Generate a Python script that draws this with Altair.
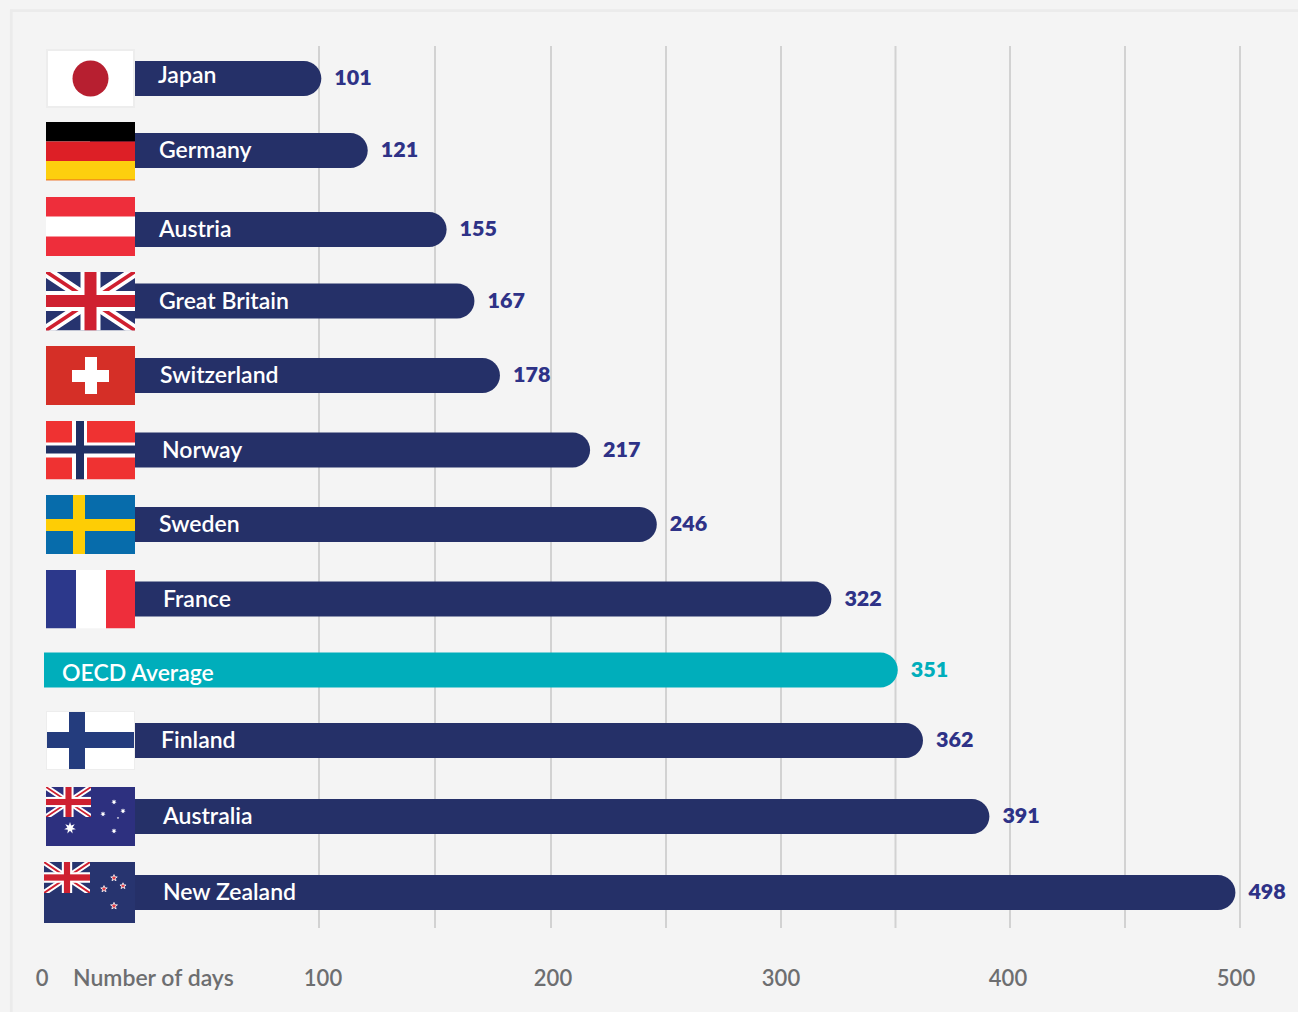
import base64
import math

import altair as alt
import pandas as pd

# Days of paid parental leave data
countries = ["Japan", "Germany", "Austria", "Great Britain", "Switzerland", "Norway",
             "Sweden", "France", "OECD Average", "Finland", "Australia", "New Zealand"]
days = [101, 121, 155, 167, 178, 217, 246, 322, 351, 362, 391, 498]
grid_values = [100, 150, 200, 250, 300, 350, 400, 450, 500]
tick_values = [0, 100, 200, 300, 400, 500]
axis_title = "Number of days"

NAVY = "#253068"
TEAL = "#00aebb"
VALUE_BLUE = "#2e3287"
GREY = "#6d6e70"
FONT = "Lato"
W, H = 89, 59


def svg_uri(body, w=W, h=H):
    svg = (f'<svg xmlns="http://www.w3.org/2000/svg" width="{w}" height="{h}" '
           f'viewBox="0 0 {w} {h}" preserveAspectRatio="none">{body}</svg>')
    return "data:image/svg+xml;base64," + base64.b64encode(svg.encode()).decode()


def rect(x, y, w, h, fill):
    return f'<rect x="{x}" y="{y}" width="{w}" height="{h}" fill="{fill}"/>'


def star(cx, cy, r, fill, points=5, inner=0.42, stroke=""):
    pts = []
    for i in range(points * 2):
        rad = r if i % 2 == 0 else r * inner
        a = -math.pi / 2 + i * math.pi / points
        pts.append(f"{cx + rad * math.cos(a):.2f},{cy + rad * math.sin(a):.2f}")
    extra = f' stroke="{stroke}" stroke-width="0.8"' if stroke else ""
    return f'<polygon points="{" ".join(pts)}" fill="{fill}"{extra}/>'


def union_jack(w, h, navy):
    sx, sy = w / 89, h / 59
    cx, cy = w / 2, h / 2
    return (
        rect(0, 0, w, h, navy)
        + f'<path d="M0 0L{w} {h}M{w} 0L0 {h}" stroke="#fff" stroke-width="{11 * sy:.2f}"/>'
        + f'<path d="M0 0L{w} {h}M{w} 0L0 {h}" stroke="#cf2030" stroke-width="{3.6 * sy:.2f}"/>'
        + rect(cx - 10 * sx, 0, 20 * sx, h, "#fff")
        + rect(0, cy - 10 * sy, w, 20 * sy, "#fff")
        + rect(cx - 6 * sx, 0, 12 * sx, h, "#cf2030")
        + rect(0, cy - 6 * sy, w, 12 * sy, "#cf2030")
    )


def nested_jack(w, h, navy):
    return f'<svg x="0" y="0" width="{w}" height="{h}" viewBox="0 0 {w} {h}">{union_jack(w, h, navy)}</svg>'


flag_bodies = {
    "Japan": rect(0, 0, W, H, "#ededed") + rect(2, 2, W - 4, H - 4, "#ffffff")
             + f'<circle cx="44.5" cy="29.5" r="18" fill="#b71f30"/>',
    "Germany": rect(0, 0, W, 20, "#000000") + rect(0, 20, W, 19.5, "#dd1f26")
               + rect(0, 39.5, W, 19.5, "#fdcf0e") + rect(0, 58.2, W, 0.8, "#dd1f26"),
    "Austria": rect(0, 0, W, H, "#ee2e3b") + rect(0, 19.5, W, 20, "#ffffff"),
    "Great Britain": union_jack(W, H, "#27346f"),
    "Switzerland": rect(0, 0, W, H, "#d52f27") + rect(39, 11, 12, 37, "#ffffff") + rect(26, 24, 37, 12, "#ffffff"),
    "Norway": rect(0, 0, W, H, "#ef3232") + rect(26, 0, 15, H, "#ffffff") + rect(0, 22, W, 15, "#ffffff")
              + rect(30, 0, 8, H, "#1f2f63") + rect(0, 25, W, 8, "#1f2f63"),
    "Sweden": rect(0, 0, W, H, "#076cab") + rect(27, 0, 12, H, "#fecd05") + rect(0, 24, W, 12, "#fecd05"),
    "France": rect(0, 0, 30, H, "#2c388b") + rect(30, 0, 30, H, "#ffffff") + rect(60, 0, 29, H, "#ee2e3b"),
    "Finland": rect(0, 0, W, H, "#ededed") + rect(1, 1, W - 2, H - 2, "#ffffff")
               + rect(23, 1, 16, H - 2, "#243c7d") + rect(1, 21, W - 2, 16, "#243c7d"),
    "Australia": rect(0, 0, W, H, "#2d307f") + nested_jack(45, 30, "#2d307f")
                 + star(24, 41, 6, "#ffffff", 7, 0.45) + star(68, 15, 2.8, "#ffffff", 7, 0.45)
                 + star(57, 27, 2.8, "#ffffff", 7, 0.45) + star(77, 24, 2.8, "#ffffff", 7, 0.45)
                 + star(72, 31, 1.3, "#ffffff", 5) + star(68, 44, 2.8, "#ffffff", 7, 0.45),
    "New Zealand": rect(0, 0, 91, 61, "#27346f") + nested_jack(46, 31, "#27346f")
                   + star(70, 16, 3.4, "#e2363f", 5, 0.42, "#ffffff") + star(60, 27, 3.4, "#e2363f", 5, 0.42, "#ffffff")
                   + star(79, 24, 3.2, "#e2363f", 5, 0.42, "#ffffff") + star(70, 44, 3.6, "#e2363f", 5, 0.42, "#ffffff"),
}

# Layout of rows: the rows are not evenly spaced, so the y scale is piecewise
row_centres = [78.5, 150.5, 229.5, 301, 375.5, 450, 524.5, 599, 670, 740.5, 816.5, 892.5]
flag_shift = {"Austria": -3, "Germany": 0.5}
label_dx = [114, 115, 115, 115, 116, 118, 115, 119, 18, 117, 119, 119]
label_dy = [-3, 0.5, 0.5, 0.5, 0.5, 0.5, 0.5, 0.5, 3.5, 0.5, 0.5, 0.5]

rows = list(range(len(countries)))
df = pd.DataFrame({"row": rows, "country": countries, "days": days})
avg_df = df[df["country"] == "OECD Average"]
country_df = df[df["country"] != "OECD Average"]

x_scale = alt.Scale(domain=tick_values, range=[44, 319, 551, 781, 1010, 1240], nice=False, zero=False)
y_scale = alt.Scale(domain=rows, range=row_centres, nice=False, zero=False, padding=0)
x_enc = alt.X("days:Q", scale=x_scale, axis=None, stack=None)
y_enc = alt.Y("row:Q", scale=y_scale, axis=None)


def at_zero():
    return alt.XDatum(0, type="quantitative", scale=x_scale, axis=None)


grid = alt.Chart(pd.DataFrame({"v": grid_values})).mark_rule(color="#d2d2d2", strokeWidth=2).encode(
    x=alt.X("v:Q", scale=x_scale, axis=None), y=alt.value(46), y2=alt.value(928))

one = pd.DataFrame({"k": [0]})
frame_left = alt.Chart(one).mark_rule(color="#ebebeb", strokeWidth=2.7).encode(
    x=alt.value(11.3), y=alt.value(9.3), y2=alt.value(1012))
frame_top = alt.Chart(one).mark_rule(color="#ebebeb", strokeWidth=2.7).encode(
    y=alt.value(10.7), x=alt.value(10), x2=alt.value(1298))


def bar_layer(frame, colour, start):
    # Country bars begin behind their flags, the average bar at the axis start
    return alt.Chart(frame).mark_bar(orient="horizontal", size=35, color=colour, cornerRadiusTopRight=17.5,
                                     cornerRadiusBottomRight=17.5).encode(
        x=x_enc, x2=alt.value(start), y=y_enc)


def value_layer(frame, colour):
    return alt.Chart(frame).mark_text(align="left", baseline="middle", dx=13, dy=0.5, font=FONT, fontSize=21.5,
                                      fontWeight=800, color=colour).encode(
        x=x_enc, y=y_enc, text="days:Q")


layers = [frame_left, frame_top, grid,
          bar_layer(country_df, NAVY, 90), bar_layer(avg_df, TEAL, 44),
          value_layer(country_df, VALUE_BLUE), value_layer(avg_df, TEAL)]

# Flags are small inline vector images anchored at the start of the scale
for i, name in enumerate(countries):
    if name not in flag_bodies:
        continue
    big = name == "New Zealand"
    w, h = (91, 61) if big else (W, H)
    uri = svg_uri(flag_bodies[name], w, h)
    flag_df = pd.DataFrame({"row": [i], "url": [uri]})
    layers.append(
        alt.Chart(flag_df).mark_image(width=w, height=h, align="left", baseline="middle",
                                      xOffset=0 if big else 2, yOffset=flag_shift.get(name, 0)).encode(
            x=at_zero(), y=y_enc, url="url:N"))

# Row names sit on the bars, with a small hand-set inset per row
for i in rows:
    layers.append(
        alt.Chart(df.iloc[[i]]).mark_text(align="left", baseline="middle", font=FONT, fontSize=23, fontWeight=600,
                                          color="#ffffff", dx=label_dx[i], dy=label_dy[i]).encode(
            x=at_zero(), y=y_enc, text="country:N"))

# Tick labels drift slightly from their gridlines across the axis
tick_dx = {0: -2, 100: 4, 200: 2, 300: 0, 400: -2, 500: -4}
for v in tick_values:
    layers.append(
        alt.Chart(pd.DataFrame({"v": [v]})).mark_text(align="center", baseline="middle", font=FONT, fontSize=22,
                                                      fontWeight=600, color=GREY, dx=tick_dx[v]).encode(
            x=alt.X("v:Q", scale=x_scale, axis=None), y=alt.value(979), text="v:Q"))

layers.append(
    alt.Chart(pd.DataFrame({"t": [axis_title]})).mark_text(align="left", baseline="middle", font=FONT, fontSize=23,
                                                           fontWeight=600, color=GREY, dx=29).encode(
        x=at_zero(), y=alt.value(979), text="t:N"))

chart = alt.layer(*layers).properties(
    width=1298, height=1012, padding=0, background="#f4f4f4",
    autosize=alt.AutoSizeParams(type="none")
).configure_view(stroke=None)

chart.save("out.html", embed_options={"renderer": "svg", "actions": False})
